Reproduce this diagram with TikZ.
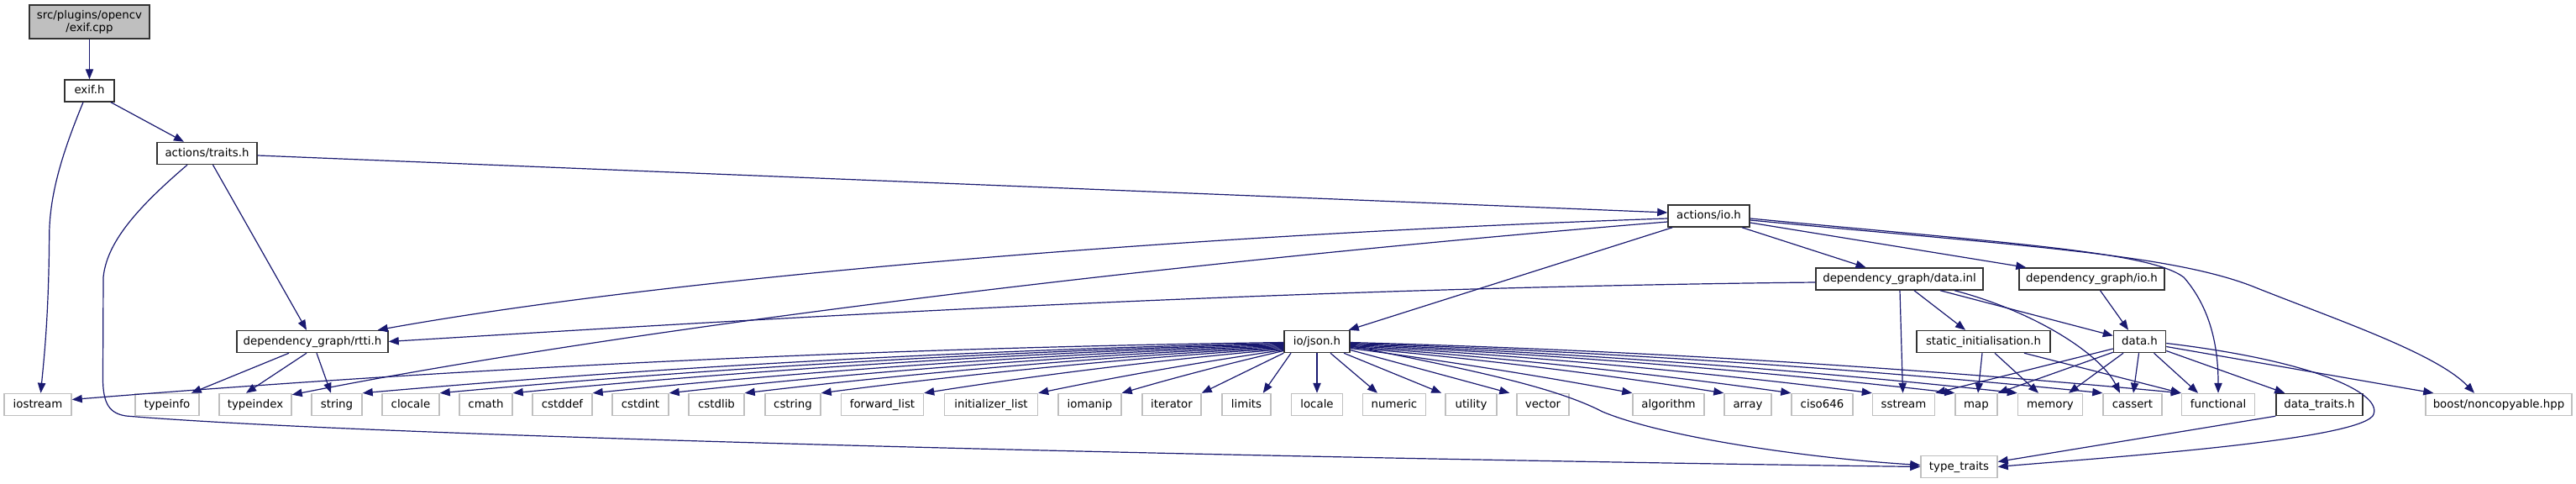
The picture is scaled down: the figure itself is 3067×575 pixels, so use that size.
\documentclass[tikz,border=0pt]{standalone}
\usepackage{fontspec}
\setmainfont{DejaVu Sans}
\usetikzlibrary{arrows.meta,calc}
\definecolor{mblue}{RGB}{25,25,112}
\definecolor{sysgray}{RGB}{191,191,191}
\definecolor{docborder}{RGB}{50,50,50}
\newcommand{\arcdep}[3]{\draw[dep] (#1) .. controls ($(#1)!0.33!(#2)+(0,-#3)$) and ($(#1)!0.67!(#2)+(0,-#3)$) .. (#2);}
\begin{document}
\begin{tikzpicture}[x=0.75pt,y=-0.75pt,
  box/.style={rectangle, inner sep=0pt, minimum height=19.5pt, line width=1.1pt,
    font=\fontsize{10pt}{11.5pt}\selectfont, text=black},
  one/.style={text height=7.3pt, text depth=2pt},
  doc/.style={box, one, draw=docborder, fill=white},
  sys/.style={box, one, draw=sysgray, fill=white},
  root/.style={box, draw=docborder, fill=sysgray, minimum height=30pt, align=center},
  bw/.style={minimum width=#1*0.75pt},
  dep/.style={draw=mblue, line width=0.9pt, -{Triangle[length=9pt,width=7pt]}}]
\fill[white] (0,0) rectangle (3067,575);
\useasboundingbox (0,0) rectangle (3067,575);

% upper nodes
\node[root,bw=143] (cpp) at (106.5,26) {src/plugins/opencv\\/exif.cpp};
\node[doc,bw=59] (exifh) at (106.5,108) {exif.h};
\node[doc,bw=119] (traits) at (246.5,182.5) {actions/traits.h};
\node[doc,bw=180] (rtti) at (372,406.5) {dependency\_graph/rtti.h};
\node[doc,bw=97] (aio) at (2034.5,257) {actions/io.h};
\node[doc,bw=199] (dinl) at (2261.5,332) {dependency\_graph/data.inl};
\node[doc,bw=173] (dgio) at (2490.5,332) {dependency\_graph/io.h};
\node[doc,bw=78] (json) at (1568,406.5) {io/json.h};
\node[doc,bw=159] (sinit) at (2361.5,406.5) {static\_initialisation.h};
\node[doc,bw=62] (datah) at (2547.5,406.5) {data.h};
\node[sys,bw=91] (ttraits) at (2332.5,555.5) {type\_traits};

% bottom row
\node[sys,bw=80] (iostream) at (45,481.5) {iostream};
\node[sys,bw=76] (typeinfo) at (199,481.5) {typeinfo};
\node[sys,bw=86] (typeindex) at (304,481.5) {typeindex};
\node[sys,bw=60] (string) at (401,481.5) {string};
\node[sys,bw=68] (clocale) at (489,481.5) {clocale};
\node[sys,bw=63] (cmath) at (578.5,481.5) {cmath};
\node[sys,bw=71] (cstddef) at (669.5,481.5) {cstddef};
\node[sys,bw=67] (cstdint) at (762.5,481.5) {cstdint};
\node[sys,bw=66] (cstdlib) at (853,481.5) {cstdlib};
\node[sys,bw=66] (cstring) at (944,481.5) {cstring};
\node[sys,bw=98] (flist) at (1050.5,481.5) {forward\_list};
\node[sys,bw=111] (ilist) at (1180,481.5) {initializer\_list};
\node[sys,bw=75] (iomanip) at (1297.5,481.5) {iomanip};
\node[sys,bw=70] (iterator) at (1395,481.5) {iterator};
\node[sys,bw=58] (limits) at (1484,481.5) {limits};
\node[sys,bw=61] (locale) at (1568,481.5) {locale};
\node[sys,bw=75] (numeric) at (1660,481.5) {numeric};
\node[sys,bw=61] (utility) at (1751.5,481.5) {utility};
\node[sys,bw=62] (vector) at (1837,481.5) {vector};
\node[sys,bw=85] (algorithm) at (1986.5,481.5) {algorithm};
\node[sys,bw=56] (array) at (2081,481.5) {array};
\node[sys,bw=73] (ciso) at (2169.5,481.5) {ciso646};
\node[sys,bw=74] (sstream) at (2266.5,481.5) {sstream};
\node[sys,bw=50] (map) at (2353,481.5) {map};
\node[sys,bw=77] (memory) at (2441,481.5) {memory};
\node[sys,bw=70] (cassert) at (2539,481.5) {cassert};
\node[sys,bw=87] (functional) at (2641,481.5) {functional};
\node[doc,bw=103] (dtraits) at (2761.5,481.5) {data\_traits.h};
\node[sys,bw=174] (boost) at (2975,481.5) {boost/noncopyable.hpp};

% top part
\draw[dep] (cpp) -- (exifh);
\draw[dep] ($(exifh.south)+(25.5,0)$) -- ($(traits.north)+(-27.5,0)$);
\draw[dep] ($(exifh.south)+(-7.5,0)$) .. controls (75,180) and (59,230) .. (58.7,280)
  .. controls (58,380) and (52,430) .. ($(iostream.north)+(3.5,0)$);
\draw[dep] ($(traits.east)+(0,2.5)$) -- ($(aio.west)+(0,-4)$);
\draw[dep] ($(traits.south)+(7,0)$) -- ($(rtti.north)+(-7,0)$);
\draw[dep] ($(traits.south)+(-23.5,0)$) .. controls (160,250) and (127,290) .. (123,330)
  -- (122.5,450) .. controls (122.5,480) and (130,492) .. (150,495)
  .. controls (450,520) and (1500,545) .. (ttraits.west);

% rtti
\draw[dep] ($(rtti.south)+(-28,0)$) -- ($(typeinfo.north east)+(-10,0)$);
\draw[dep] ($(rtti.south)+(-7,0)$) -- ($(typeindex.north)+(-11,0)$);
\draw[dep] ($(rtti.south)+(5,0)$) -- ($(string.north)+(-7,0)$);

% actions/io.h
\draw[dep] ($(aio.west)+(0,3)$) .. controls (1400,280) and (800,330) .. ($(rtti.north east)+(-13,0)$);
\draw[dep] ($(aio.west)+(0,7)$) .. controls (1300,320) and (700,400) .. ($(typeindex.north east)+(0,2)$);
\draw[dep] ($(aio.south west)+(6,0)$) -- ($(json.north east)+(-2,0)$);
\draw[dep] ($(aio.south)+(39.5,0)$) -- ($(dinl.north)+(-40,0)$);
\draw[dep] ($(aio.east)+(0,8)$) -- ($(dgio.north west)+(9,0)$);
\draw[dep] ($(aio.east)+(0,3)$) .. controls (2400,290) and (2560,300) .. (2600,330)
  .. controls (2635,370) and (2641,420) .. (functional.north);
\draw[dep] ($(aio.east)+(0,5)$) .. controls (2400,292) and (2580,302) .. (2680,340)
  .. controls (2780,380) and (2900,420) .. ($(boost.north)+(-29,0)$);

% data.inl
\draw[dep] ($(dinl.west)+(0,4)$) .. controls (1500,343) and (900,380) .. (rtti.east);
\draw[dep] ($(dinl.south)+(0.5,0)$) -- ($(sstream.north)+(-1,0)$);
\draw[dep] ($(dinl.south)+(17.5,0)$) -- ($(sinit.north)+(-21.5,0)$);
\draw[dep] ($(dinl.south)+(48.5,0)$) -- ($(datah.west)+(0,-7)$);
\draw[dep] ($(dinl.south)+(65.5,0)$) .. controls (2420,370) and (2500,420) .. ($(cassert.north)+(-15,0)$);
\draw[dep] ($(dgio.south)+(10,0)$) -- ($(datah.north)+(-13.5,0)$);

% static_initialisation.h
\draw[dep] ($(sinit.south)+(-1.5,0)$) -- ($(map.north)+(2,0)$);
\draw[dep] ($(sinit.south)+(13.5,0)$) -- ($(memory.north)+(-14,0)$);
\draw[dep] ($(sinit.south)+(48.5,0)$) -- (functional.north west);

% data.h
\draw[dep] ($(datah.west)+(0,8.5)$) -- (sstream.north east);
\draw[dep] ($(datah.south west)+(0,-1)$) -- (map.north east);
\draw[dep] ($(datah.south)+(-19.5,0)$) -- ($(memory.north)+(22,0)$);
\draw[dep] ($(datah.south)+(-1,0)$) -- ($(cassert.north)+(1,0)$);
\draw[dep] ($(datah.south)+(17,0)$) -- ($(functional.north)+(-24,0)$);
\draw[dep] ($(datah.east)+(0,11)$) -- ($(dtraits.north west)+(11,0)$);
\draw[dep] ($(datah.east)+(0,6)$) -- ($(boost.north west)+(10,0)$);
\draw[dep] ($(datah.east)+(0,2)$) .. controls (2760,430) and (2840,470) .. (2825,495)
  .. controls (2800,525) and (2500,545) .. (ttraits.east);
\draw[dep] (dtraits.south west) -- ($(ttraits.east)+(0,-6)$);

% io/json.h
\draw[dep] ($(json.east)+(0,5)$) .. controls (1750,440) and (1850,460) .. (1908,490)
  .. controls (1980,520) and (2150,545) .. ($(ttraits.west)+(0,-2)$);
\foreach \i in {1,...,11} {\coordinate (jl\i) at ($(json.west)+(0,\i)$);}
\foreach \i in {1,...,8} {\coordinate (jr\i) at ($(json.east)+(0,\i)$);}
\coordinate (iosend) at ($(iostream.east)+(0,-6)$);
\arcdep{jl1}{iosend}{16}
\arcdep{jl2}{string.north east}{12}
\arcdep{jl3}{clocale.north east}{11}
\arcdep{jl4}{cmath.north east}{10}
\arcdep{jl5}{cstddef.north east}{9}
\arcdep{jl6}{cstdint.north east}{8}
\arcdep{jl7}{cstdlib.north east}{7}
\arcdep{jl8}{cstring.north east}{6}
\arcdep{jl9}{flist.north east}{5}
\arcdep{jl10}{ilist.north east}{3}
\arcdep{jl11}{iomanip.north east}{2}
\draw[dep] (json.south west) -- (iterator.north east);
\draw[dep] ($(json.south)+(-31,0)$) -- ($(limits.north east)+(-10,0)$);
\draw[dep] (json.south) -- (locale.north);
\draw[dep] ($(json.south)+(16,0)$) -- ($(numeric.north)+(-20,0)$);
\draw[dep] ($(json.south)+(32,0)$) -- ($(utility.north west)+(-4,0)$);
\draw[dep] ($(json.east)+(0,10)$) -- ($(vector.north west)+(-8,0)$);
\arcdep{jr8}{algorithm.north west}{3}
\arcdep{jr7}{array.north west}{5}
\arcdep{jr6}{ciso.north west}{6}
\arcdep{jr5}{sstream.north west}{7}
\arcdep{jr4}{map.north west}{8}
\arcdep{jr3}{memory.north west}{9}
\arcdep{jr2}{cassert.north west}{10}
\arcdep{jr1}{functional.north west}{11}
\end{tikzpicture}
\end{document}
